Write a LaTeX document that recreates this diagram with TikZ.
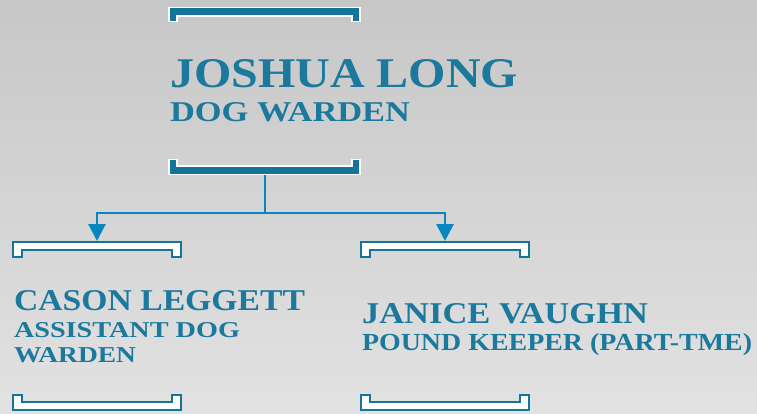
\documentclass[tikz,border=0pt]{standalone}
\usepackage{fontspec}
\usepackage{graphicx}
\setmainfont{Liberation Serif}
\usetikzlibrary{arrows.meta}
\definecolor{bgtop}{RGB}{199,199,199}
\definecolor{bgbot}{RGB}{226,226,226}
\definecolor{teal}{RGB}{20,117,154}
\definecolor{txt}{RGB}{27,121,157}
\definecolor{conn}{RGB}{10,134,190}
\newcommand{\fitline}[3]{\resizebox{#1pt}{#2pt}{\bfseries #3}}
\tikzset{
  darkbr/.style={fill=teal,draw=white,line width=1.5pt,line join=miter},
  lightbr/.style={fill=white,draw=teal,line width=2pt,line join=miter},
  lbl/.style={anchor=base west,inner sep=0pt,outer sep=0pt,text=txt},
  conline/.style={draw=conn,line width=2.8pt},
  arr/.style={conline,-{Triangle[length=17pt,width=17pt]}}
}
\begin{document}
\begin{tikzpicture}[x=1pt,y=-1pt]
\shade[top color=bgtop,bottom color=bgbot] (0,0) rectangle (757,414);
\useasboundingbox (0,0) rectangle (757,414);
% top brackets
\draw[darkbr] (169,7.5) -- (360,7.5) -- (360,21.5) -- (352,21.5) -- (352,16) -- (177,16) -- (177,21.5) -- (169,21.5) -- cycle;
\draw[darkbr] (169,159.5) -- (177,159.5) -- (177,166) -- (352,166) -- (352,159.5) -- (360,159.5) -- (360,174.5) -- (169,174.5) -- cycle;
\coordinate (topb) at (265,175);
% left brackets
\draw[lightbr] (13,242) -- (181,242) -- (181,257) -- (172,257) -- (172,250) -- (22,250) -- (22,257) -- (13,257) -- cycle;
\draw[lightbr] (13,395) -- (22,395) -- (22,402) -- (172,402) -- (172,395) -- (181,395) -- (181,410) -- (13,410) -- cycle;
\coordinate (lefttop) at (97,241);
% right brackets
\draw[lightbr] (361,242) -- (529,242) -- (529,257) -- (520,257) -- (520,250) -- (370,250) -- (370,257) -- (361,257) -- cycle;
\draw[lightbr] (361,395) -- (370,395) -- (370,402) -- (520,402) -- (520,395) -- (529,395) -- (529,410) -- (361,410) -- cycle;
\coordinate (righttop) at (445,241);
% connectors
\coordinate (junc) at (265,213);
\draw[conline] (topb) -- (junc);
\draw[arr] (junc) -| (lefttop);
\draw[arr] (junc) -| (righttop);
% texts
\node[lbl] (n1) at (170,88) {\fitline{348}{28}{JOSHUA LONG}};
\node[lbl] (n2) at (170,122) {\fitline{240}{19}{DOG WARDEN}};
\node[lbl] (n3) at (14,310) {\fitline{291}{20}{CASON LEGGETT}};
\node[lbl] (n4) at (14,337) {\fitline{226}{15}{ASSISTANT DOG}};
\node[lbl] (n5) at (14,362) {\fitline{122}{15}{WARDEN}};
\node[lbl] (n6) at (362,323) {\fitline{286}{20}{JANICE VAUGHN}};
\node[lbl] (n7) at (362,350) {\fitline{390}{17}{POUND KEEPER (PART-TME)}};
\end{tikzpicture}
\end{document}
